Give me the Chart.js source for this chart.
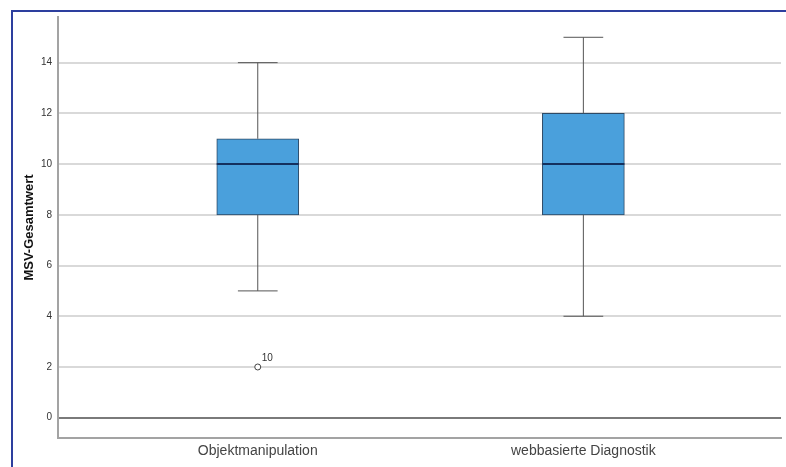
<!DOCTYPE html>
<html>
<head>
<meta charset="utf-8">
<script src="https://cdn.jsdelivr.net/npm/chart.js@4"></script>
<style>
  html, body { margin: 0; padding: 0; background: #fff; }
  #wrap { position: relative; width: 786px; height: 467px; overflow: hidden; }
  #frame { position: absolute; left: 11px; top: 10px; width: 800px; height: 480px;
           border-left: 2px solid #2d3f9e; border-top: 2px solid #2d3f9e; }
  #chart { position: absolute; left: 0; top: 0; }
</style>
</head>
<body>
<div id="wrap">
  <div id="frame"></div>
  <canvas id="chart" width="786" height="467"></canvas>
</div>
<script>
// 1. Data
const categories = ['Objektmanipulation', 'webbasierte Diagnostik'];
const whiskerLow  = [5, 4];
const quartile1   = [8, 8];
const medians     = [10, 10];
const quartile3   = [11, 12];
const whiskerHigh = [14, 15];
const outlierCat   = [0];
const outlierVal   = [2];
const outlierLabel = ['10'];
const yTicks = [0, 2, 4, 6, 8, 10, 12, 14];

// box / cap half widths in category units
const BOX_HALF = 0.126;
const CAP_HALF = 0.061;

// 2. Build datasets from the arrays
const boxData = categories.map((c, i) => ({ x: i, y: [quartile1[i], quartile3[i]] }));

const whiskerData = [];
categories.forEach((c, i) => {
    whiskerData.push({ x: i - CAP_HALF, y: whiskerHigh[i] }, { x: i + CAP_HALF, y: whiskerHigh[i] }, { x: i, y: null });
    whiskerData.push({ x: i, y: quartile3[i] }, { x: i, y: whiskerHigh[i] }, { x: i, y: null });
    whiskerData.push({ x: i, y: whiskerLow[i] }, { x: i, y: quartile1[i] }, { x: i, y: null });
    whiskerData.push({ x: i - CAP_HALF, y: whiskerLow[i] }, { x: i + CAP_HALF, y: whiskerLow[i] }, { x: i, y: null });
});

const medianData = [];
categories.forEach((c, i) => {
    medianData.push({ x: i - BOX_HALF, y: medians[i] }, { x: i + BOX_HALF, y: medians[i] }, { x: i, y: null });
});

const outlierData = outlierCat.map((c, k) => ({ x: c, y: outlierVal[k] }));

// outlier case numbers next to the circles
const outlierLabels = {
    id: 'outlierLabels',
    afterDatasetsDraw(chart) {
        const { ctx, scales } = chart;
        ctx.save();
        ctx.font = '10px "Liberation Sans", Arial, sans-serif';
        ctx.fillStyle = '#333';
        ctx.textAlign = 'left';
        ctx.textBaseline = 'alphabetic';
        outlierData.forEach((pt, k) => {
            const px = scales.x.getPixelForValue(pt.x);
            const py = scales.y.getPixelForValue(pt.y);
            ctx.fillText(outlierLabel[k], px + 4, py - 6);
        });
        ctx.restore();
    }
};

// 3. Chart
const ctx = document.getElementById('chart').getContext('2d');
new Chart(ctx, {
    type: 'bar',
    data: {
        datasets: [
            { type: 'line', data: medianData, borderColor: '#14305e', borderWidth: 2, pointRadius: 0, spanGaps: false, order: 0 },
            { type: 'scatter', data: outlierData, pointRadius: 3, pointBorderWidth: 1, borderColor: '#444', backgroundColor: '#fff', order: 1 },
            { type: 'line', data: whiskerData, borderColor: '#555', borderWidth: 1, pointRadius: 0, spanGaps: false, order: 2 },
            { type: 'bar', data: boxData, barThickness: 82, backgroundColor: '#4aa0dc', borderColor: '#2e4a66', borderWidth: 1, borderSkipped: false, order: 3 }
        ]
    },
    options: {
        responsive: false,
        animation: false,
        layout: { padding: { top: 17, right: 0, left: 0, bottom: 0 } },
        plugins: { legend: { display: false }, tooltip: { enabled: false } },
        scales: {
            x: {
                type: 'linear',
                offset: false,
                min: -0.6135, max: 1.607,
                afterBuildTicks: (scale) => { scale.ticks = categories.map((c, i) => ({ value: i })); },
                afterFit: (scale) => { scale.height = 29; scale.paddingLeft = 0; scale.paddingRight = 0; },
                grid: { display: false, drawTicks: false },
                border: { display: true, color: '#a3a3a3', width: 2 },
                ticks: {
                    padding: 5,
                    maxRotation: 0,
                    color: '#444',
                    font: { family: '"Liberation Sans", Arial, sans-serif', size: 14 },
                    callback: (v) => categories[v]
                }
            },
            y: {
                min: -0.8, max: 15.8,
                afterBuildTicks: (scale) => { scale.ticks = yTicks.map(v => ({ value: v })); },
                afterFit: (scale) => { scale.width = 58; scale.paddingTop = 0; scale.paddingBottom = 0; },
                grid: {
                    drawTicks: false,
                    color: (c) => c.tick && c.tick.value === 0 ? '#7a7a7a' : '#d9d9d9',
                    lineWidth: (c) => 2
                },
                border: { display: true, color: '#a3a3a3', width: 2 },
                ticks: {
                    padding: 6,
                    color: '#333',
                    font: { family: '"Liberation Sans", Arial, sans-serif', size: 10 }
                },
                title: {
                    display: true,
                    text: 'MSV-Gesamtwert',
                    color: '#111',
                    padding: { top: 22, bottom: 0 },
                    font: { family: '"Liberation Sans", Arial, sans-serif', size: 13, weight: 'bold' }
                }
            }
        }
    },
    plugins: [outlierLabels]
});
</script>
</body>
</html>
